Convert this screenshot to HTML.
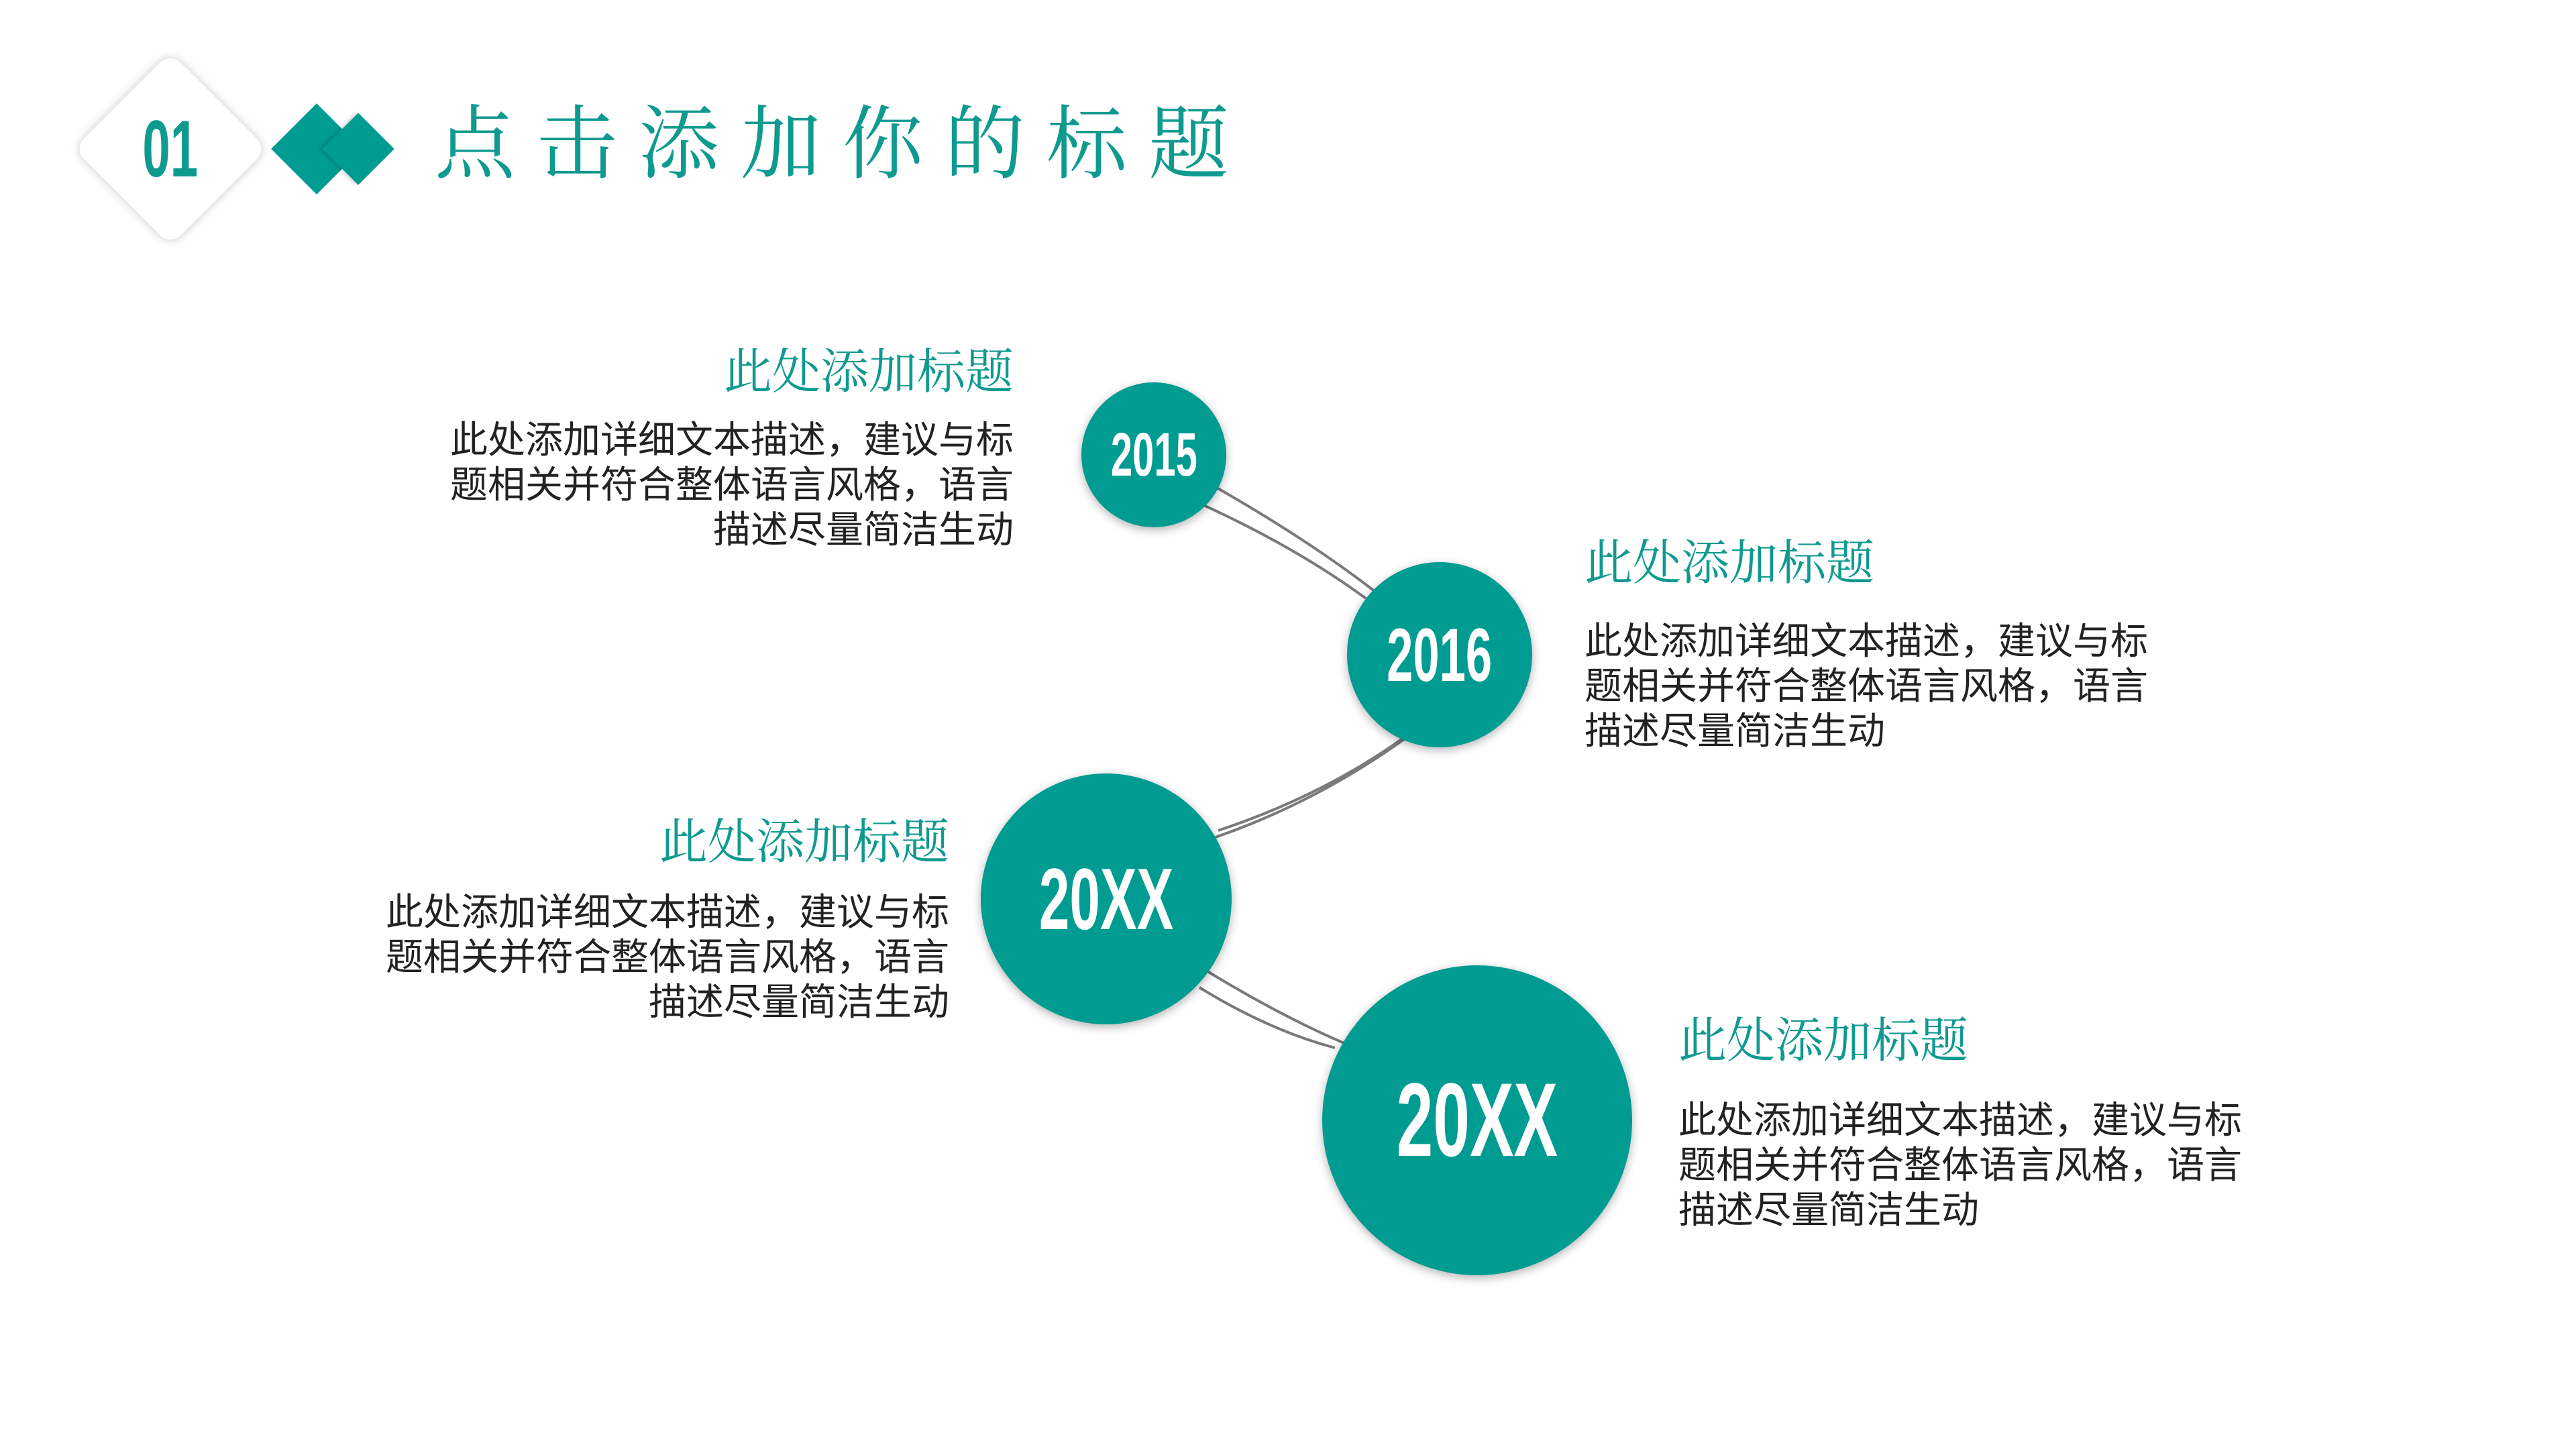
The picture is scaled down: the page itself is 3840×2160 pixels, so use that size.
<!DOCTYPE html>
<html><head><meta charset="utf-8"><style>
html,body{margin:0;padding:0;background:#fff;}
body{width:3840px;height:2160px;position:relative;overflow:hidden;font-family:"Liberation Sans","Noto Sans CJK SC",sans-serif;}
#w{position:absolute;left:-8px;top:-4px;width:3840px;height:2160px;}
.t{position:absolute;color:#0f9a90;font-family:"Liberation Serif","Noto Serif CJK SC",serif;font-size:72px;line-height:80px;white-space:nowrap;}
.b{position:absolute;color:#222;font-size:56px;line-height:67px;white-space:nowrap;}
.r{text-align:right;}
.c{position:absolute;border-radius:50%;background:#009b91;box-shadow:0 4px 14px rgba(0,0,0,.3);display:flex;align-items:center;justify-content:center;color:#fff;font-weight:bold;}
.c span{display:inline-block;transform:scaleX(.63);}
</style></head><body>
<div style="position:absolute;left:152px;top:120px;width:204px;height:204px;background:#fff;transform:rotate(45deg);border-radius:22px;box-shadow:0 0 14px rgba(0,0,0,.22);"></div>
<div style="position:absolute;left:154px;top:152px;width:200px;text-align:center;color:#0f9a90;font-weight:bold;font-size:120px;line-height:140px;"><span style="display:inline-block;transform:scaleX(.62)">01</span></div>
<div style="position:absolute;left:424px;top:174px;width:96px;height:96px;background:#009b91;transform:rotate(45deg);"></div>
<div style="position:absolute;left:496px;top:184px;width:76px;height:76px;background:#009b91;transform:rotate(45deg);box-shadow:-3px 3px 6px rgba(0,0,0,.15);"></div>
<div style="position:absolute;left:648px;top:146px;color:#0f9a90;font-family:'Liberation Serif','Noto Serif CJK SC',serif;font-size:120px;line-height:140px;letter-spacing:32px;white-space:nowrap;">点击添加你的标题</div>
<div id="w">
<svg style="position:absolute;left:0;top:0" width="3840" height="2160">
<g fill="none" stroke="#7a7a7a" stroke-width="4">
<path d="M1820 730 Q1960 810 2058 886"/>
<path d="M1800 756 Q1940 820 2044 896"/>
<path d="M2104 1104 Q1970 1200 1820 1252"/>
<path d="M2100 1104 Q1980 1190 1824 1242"/>
<path d="M1808 1452 Q1920 1520 2014 1560"/>
<path d="M1796 1476 Q1900 1540 1998 1566"/>
</g></svg>

<div class="c" style="left:1620px;top:574px;width:216px;height:216px;font-size:92px;"><span>2015</span></div>
<div class="c" style="left:2016px;top:842px;width:276px;height:276px;font-size:112px;"><span>2016</span></div>
<div class="c" style="left:1470px;top:1157px;width:374px;height:374px;font-size:130px;"><span>20XX</span></div>
<div class="c" style="left:1979px;top:1443px;width:462px;height:462px;font-size:156px;"><span>20XX</span></div>

<div class="t r" style="right:2321px;top:519px;">此处添加标题</div>
<div class="b r" style="right:2321px;top:626px;">此处添加详细文本描述，建议与标<br>题相关并符合整体语言风格，语言<br>描述尽量简洁生动</div>

<div class="t" style="left:2370px;top:804px;">此处添加标题</div>
<div class="b" style="left:2370px;top:926px;">此处添加详细文本描述，建议与标<br>题相关并符合整体语言风格，语言<br>描述尽量简洁生动</div>

<div class="t r" style="right:2417px;top:1220px;">此处添加标题</div>
<div class="b r" style="right:2417px;top:1330px;">此处添加详细文本描述，建议与标<br>题相关并符合整体语言风格，语言<br>描述尽量简洁生动</div>

<div class="t" style="left:2510px;top:1516px;">此处添加标题</div>
<div class="b" style="left:2510px;top:1640px;">此处添加详细文本描述，建议与标<br>题相关并符合整体语言风格，语言<br>描述尽量简洁生动</div>
</div></body></html>
